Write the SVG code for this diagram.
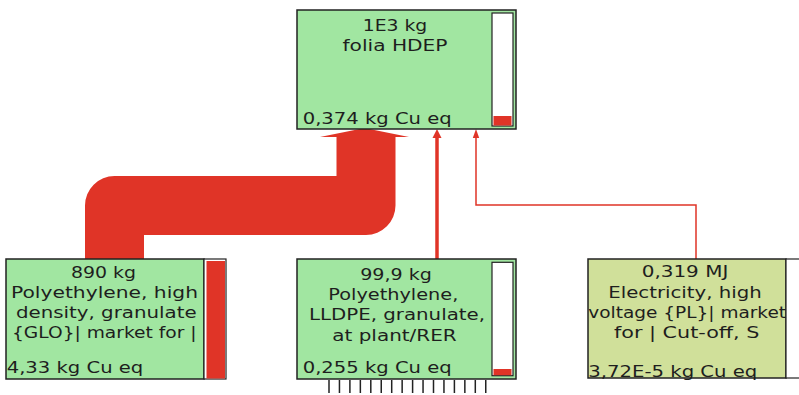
<svg xmlns="http://www.w3.org/2000/svg" width="799" height="395" viewBox="0 0 799 395">
<style>
.box{stroke:#222;stroke-width:1.5}
.g{fill:#a1e6a1}
.y{fill:#d0e09a}
.bar{fill:#fff;stroke:#222;stroke-width:1.2}
.fill{fill:#e03427}
text{font-family:"DejaVu Sans","Verdana",sans-serif;font-size:16px;fill:#1e1e1e}
.c{text-anchor:middle}
.tick{stroke:#222;stroke-width:1.5}
</style>
<rect width="799" height="395" fill="#fff"/>
<g id="connectors">
  <path d="M114.5,259 V205.5 H366 V136" fill="none" stroke="#e03427" stroke-width="59" stroke-linejoin="round"/>
  <polygon points="320,137 409,137 364.5,128" fill="#e03427"/>
  <line x1="437" y1="259" x2="437" y2="136" stroke="#e03427" stroke-width="3.5"/>
  <polygon points="432.5,138 441.5,138 437,129" fill="#e03427"/>
  <polyline points="696,259 696,205 476,205 476,136" fill="none" stroke="#e03427" stroke-width="1.5"/>
  <polygon points="472.8,138 479.2,138 476,129" fill="#e03427"/>
</g>
<g id="node-folia">
  <rect class="box g" x="297" y="10" width="219" height="119"/>
  <rect class="bar" x="492" y="13" width="21" height="113"/>
  <rect class="fill" x="493.5" y="116" width="18" height="9.5"/>
  <text class="c" x="395" y="31" textLength="64.6" lengthAdjust="spacingAndGlyphs">1E3 kg</text>
  <text class="c" x="395" y="51" textLength="105" lengthAdjust="spacingAndGlyphs">folia HDEP</text>
  <text x="302.7" y="123.5" textLength="149" lengthAdjust="spacingAndGlyphs">0,374 kg Cu eq</text>
</g>
<g id="node-hdpe">
  <rect class="box g" x="6" y="259" width="198" height="120"/>
  <rect class="bar" x="204" y="259" width="22" height="120"/>
  <rect class="fill" x="206.5" y="261" width="18.5" height="117.5"/>
  <text class="c" x="103.5" y="278" textLength="65" lengthAdjust="spacingAndGlyphs">890 kg</text>
  <text class="c" x="104.5" y="298" textLength="187" lengthAdjust="spacingAndGlyphs">Polyethylene, high</text>
  <text class="c" x="106.3" y="318" textLength="180.7" lengthAdjust="spacingAndGlyphs">density, granulate</text>
  <text class="c" x="104.3" y="338" textLength="184.7" lengthAdjust="spacingAndGlyphs">{GLO}| market for |</text>
  <text x="6.7" y="372.7" textLength="136.6" lengthAdjust="spacingAndGlyphs">4,33 kg Cu eq</text>
</g>
<g id="node-lldpe">
  <rect class="box g" x="297" y="259" width="219" height="120"/>
  <rect class="bar" x="492" y="262.3" width="21" height="113.4"/>
  <rect class="fill" x="493.5" y="369" width="18" height="6.2"/>
  <text class="c" x="396" y="279.5" textLength="71.7" lengthAdjust="spacingAndGlyphs">99,9 kg</text>
  <text class="c" x="393.3" y="299.5" textLength="130" lengthAdjust="spacingAndGlyphs">Polyethylene,</text>
  <text class="c" x="397" y="320" textLength="176" lengthAdjust="spacingAndGlyphs">LLDPE, granulate,</text>
  <text class="c" x="394.5" y="340.5" textLength="124.4" lengthAdjust="spacingAndGlyphs">at plant/RER</text>
  <text x="302.7" y="373.3" textLength="149" lengthAdjust="spacingAndGlyphs">0,255 kg Cu eq</text>
  <g class="tick">
    <line x1="329" y1="380" x2="329" y2="393"/>
    <line x1="339.45" y1="380" x2="339.45" y2="393"/>
    <line x1="349.9" y1="380" x2="349.9" y2="393"/>
    <line x1="360.35" y1="380" x2="360.35" y2="393"/>
    <line x1="370.8" y1="380" x2="370.8" y2="393"/>
    <line x1="381.25" y1="380" x2="381.25" y2="393"/>
    <line x1="391.7" y1="380" x2="391.7" y2="393"/>
    <line x1="402.15" y1="380" x2="402.15" y2="393"/>
    <line x1="412.6" y1="380" x2="412.6" y2="393"/>
    <line x1="423.05" y1="380" x2="423.05" y2="393"/>
    <line x1="433.5" y1="380" x2="433.5" y2="393"/>
    <line x1="443.95" y1="380" x2="443.95" y2="393"/>
    <line x1="454.4" y1="380" x2="454.4" y2="393"/>
    <line x1="464.85" y1="380" x2="464.85" y2="393"/>
    <line x1="475.3" y1="380" x2="475.3" y2="393"/>
    <line x1="485.75" y1="380" x2="485.75" y2="393"/>
  </g>
</g>
<g id="node-electricity">
  <rect class="box y" x="588" y="259" width="198" height="119"/>
  <rect class="bar" x="786" y="259" width="22" height="119"/>
  <text class="c" x="685" y="277" textLength="86.6" lengthAdjust="spacingAndGlyphs">0,319 MJ</text>
  <text class="c" x="685" y="297.5" textLength="153.4" lengthAdjust="spacingAndGlyphs">Electricity, high</text>
  <text class="c" x="687.2" y="318" textLength="197.7" lengthAdjust="spacingAndGlyphs">voltage {PL}| market</text>
  <text class="c" x="686.7" y="338" textLength="145.3" lengthAdjust="spacingAndGlyphs">for | Cut-off, S</text>
  <text x="588.3" y="376.5" textLength="169" lengthAdjust="spacingAndGlyphs">3,72E-5 kg Cu eq</text>
</g>
</svg>
